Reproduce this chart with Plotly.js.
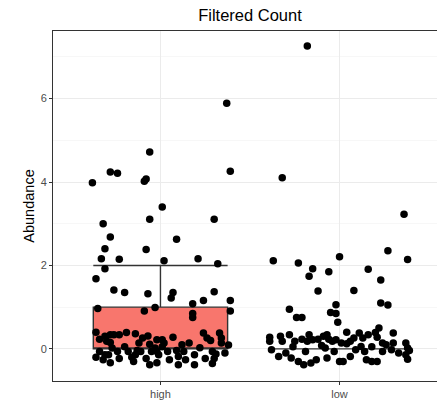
<!DOCTYPE html>
<html><head><meta charset="utf-8">
<script src="https://cdn.plot.ly/plotly-3.0.1.min.js"></script>
<style>html,body{margin:0;padding:0;overflow:hidden;background:#fff}#chart{width:450px;height:401px}</style>
</head><body><div id="chart"></div>
<script>
const categories = ["high", "low"];
const boxColors = ["#F8766D", "#00BFC4"];
// box statistics per category
const lowerFence = [0, 0];
const q1 = [0, 0];
const median = [0, 0];
const q3 = [1.0, 0];
const upperFence = [2.0, 0];

// jittered points: horizontal jitter offset (category units) and abundance
const highJitter = [0.37,-0.06,-0.28,-0.24,0.39,-0.38,-0.08,-0.09,0.01,-0.32,-0.06,0.30,-0.28,0.09,-0.31,-0.08,-0.33,-0.23,0.02,0.21,0.32,-0.31,-0.36,-0.26,-0.20,-0.07,0.07,0.06,0.30,0.24,0.39,0.18,-0.35,-0.09,-0.03,0.39,0.18,0.18,
 -0.36,-0.34,-0.31,-0.28,-0.26,-0.23,-0.19,-0.30,-0.28,-0.14,-0.10,-0.07,-0.12,-0.02,0.01,0.02,0.12,0.16,0.24,0.26,0.28,0.33,0.34,0.34,0.38,-0.06,
 -0.34,-0.36,-0.32,-0.28,-0.29,-0.24,-0.23,-0.18,-0.16,-0.14,-0.11,-0.08,-0.06,-0.02,-0.05,-0.03,-0.01,0.04,0.05,0.10,0.09,0.13,0.14,0.19,0.19,0.25,0.29,0.29,0.30,-0.31,-0.13,0.01,-0.02,
 -0.20,0.07,0.22,0.36,-0.15,0.10,-0.27,0.31];
const highValue = [5.89,4.72,4.24,4.21,4.26,3.98,4.07,4.02,3.40,3.00,3.11,3.11,2.68,2.63,2.40,2.38,2.16,2.15,2.11,2.16,2.04,1.92,1.68,1.41,1.35,1.32,1.35,1.22,1.37,1.16,1.16,1.08,0.97,0.91,0.99,0.91,0.85,0.75,
 0.40,0.23,0.30,0.34,0.34,0.34,0.39,0.18,0.15,0.36,0.26,0.31,0.14,0.22,0.22,0.14,0.10,0.14,0.38,0.26,0.20,0.38,0.26,0.14,0.09,0.11,
 -0.06,-0.20,-0.26,-0.33,-0.14,-0.06,-0.23,-0.06,-0.20,-0.14,-0.06,-0.23,-0.38,-0.33,-0.06,0.02,-0.14,-0.06,-0.26,-0.38,-0.04,-0.06,-0.26,-0.14,-0.38,-0.23,-0.06,-0.35,-0.23,-0.14,-0.04,0.05,-0.06,
 0.05,0.28,0.03,-0.10,-0.30,-0.18,0.02,-0.12];

const lowJitter = [-0.18,-0.32,0.36,-0.37,-0.23,-0.15,-0.17,-0.06,0.00,0.16,0.23,0.27,0.38,-0.12,0.08,-0.28,-0.24,-0.21,-0.02,-0.05,-0.02,-0.01,0.23,0.27,0.04,0.22,
 -0.39,-0.39,-0.33,-0.28,-0.32,-0.25,-0.21,-0.17,-0.18,-0.15,-0.12,-0.09,-0.07,-0.06,-0.04,-0.02,0.01,0.06,0.08,0.11,0.13,0.16,0.20,0.21,0.26,0.30,0.12,0.30,0.24,0.37,0.38,0.39,
 -0.38,-0.34,-0.30,-0.27,-0.23,-0.20,-0.16,-0.13,-0.07,-0.03,0.00,0.02,0.06,0.09,0.14,0.15,0.18,0.21,0.24,0.29,0.37,0.38,-0.08,-0.19,
 -0.10,0.04,0.18,-0.26,0.33];
const lowValue = [7.26,4.10,3.23,2.11,2.06,1.92,1.74,1.85,2.21,1.91,1.65,2.35,2.14,1.39,1.40,0.95,0.75,0.75,1.06,0.87,0.85,0.64,1.10,1.05,0.40,0.50,
 0.28,0.18,0.30,0.34,0.18,0.18,0.23,0.34,0.18,0.22,0.23,0.30,0.34,0.23,0.18,0.22,0.14,0.18,0.26,0.38,0.26,0.34,0.39,0.28,0.10,0.14,0.06,0.38,0.14,0.14,0.02,-0.04,
 -0.02,-0.18,-0.10,-0.22,-0.30,-0.38,-0.34,-0.26,-0.22,-0.06,-0.30,-0.30,-0.18,-0.02,-0.06,-0.26,-0.30,-0.30,-0.06,-0.02,-0.14,-0.25,0.02,-0.06,
 0.08,0.12,0.05,0.05,-0.10];

const traces = [];
categories.forEach((c, i) => {
  traces.push({
    type: "box", x: [i], q1: [q1[i]], median: [median[i]], q3: [q3[i]],
    lowerfence: [lowerFence[i]], upperfence: [upperFence[i]],
    width: 0.75, whiskerwidth: 1, fillcolor: boxColors[i],
    line: {color: "#333333", width: 1.4}, boxpoints: false,
    hoverinfo: "skip", showlegend: false
  });
});
const pts = [[highJitter, highValue], [lowJitter, lowValue]];
pts.forEach(([jit, val], i) => {
  traces.push({
    type: "scatter", mode: "markers",
    x: jit.map(d => i + d), y: val,
    marker: {color: "#000000", size: 7.5},
    hoverinfo: "skip", showlegend: false
  });
});

const layout = {
  width: 450, height: 401,
  margin: {l: 53, r: 3, t: 31, b: 20},
  paper_bgcolor: "#ffffff", plot_bgcolor: "#ffffff",
  font: {family: "Liberation Sans, Arial, sans-serif", color: "#000"},
  title: {text: "Filtered Count", x: 0.5, xref: "paper", xanchor: "center", y: 0.9626, yref: "container", yanchor: "middle", font: {size: 16.5, color: "#000"}},
  xaxis: {
    range: [-0.6, 1.6], tickvals: [0, 1], ticktext: categories,
    showgrid: true, gridcolor: "#EBEBEB", gridwidth: 1,
    zeroline: false, showline: true, mirror: true, linecolor: "#333333", linewidth: 1,
    ticks: "outside", ticklen: 3, tickcolor: "#333333",
    tickfont: {size: 11, color: "#4D4D4D"}
  },
  yaxis: {
    range: [-0.77, 7.62], tickvals: [0, 2, 4, 6],
    showgrid: true, gridcolor: "#EBEBEB", gridwidth: 1,
    minor: {tickvals: [1, 3, 5, 7], showgrid: true, gridcolor: "#F2F2F2", gridwidth: 0.6, ticks: ""},
    zeroline: false, showline: true, mirror: true, linecolor: "#333333", linewidth: 1,
    ticks: "outside", ticklen: 3, tickcolor: "#333333",
    tickfont: {size: 11, color: "#4D4D4D"},
    title: {text: "Abundance", font: {size: 14.5, color: "#000"}, standoff: 2}
  }
};
Plotly.newPlot("chart", traces, layout, {staticPlot: true, displayModeBar: false});
</script></body></html>
